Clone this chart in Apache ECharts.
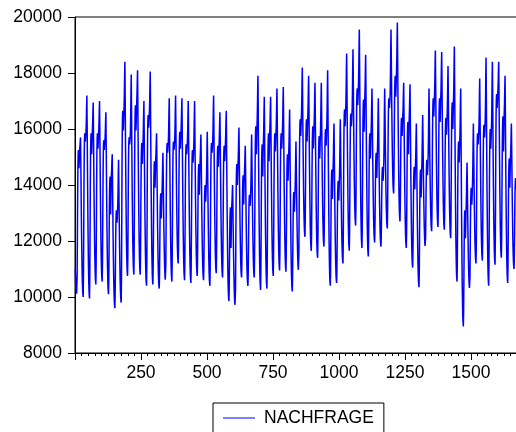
<!DOCTYPE html>
<html>
<head>
<meta charset="utf-8">
<script src="https://cdn.jsdelivr.net/npm/echarts@6/dist/echarts.min.js"></script>
<style>
  html, body { margin: 0; padding: 0; background: #fff; }
  #chart { width: 516px; height: 432px; }
</style>
</head>
<body>
<div id="chart"></div>
<script>
// Hourly demand (NACHFRAGE), one row per day, seven days per week.
const week01 = [
  11000, 10700, 10450, 10300, 10200, 10120, 10100, 10720, 12060, 13600, 14630, 15100, 15250, 14930, 14600, 14860, 15190, 15300, 15410, 15570, 15700, 14850, 13880, 12960,
  12170, 11480, 10910, 10510, 10230, 10090, 10000, 10700, 12220, 13980, 15150, 15680, 15850, 15700, 15550, 15670, 15820, 15990, 16320, 16820, 17200, 16110, 14880, 13720,
  12710, 11840, 11110, 10600, 10240, 10060, 9950, 10660, 12190, 13960, 15140, 15670, 15850, 15480, 15100, 15400, 15780, 15960, 16240, 16640, 16950, 15980, 14870, 13830,
  12920, 12140, 11490, 11040, 10710, 10550, 10450, 11100, 12500, 14120, 15200, 15690, 15850, 15580, 15300, 15520, 15800, 15970, 16250, 16680, 17000, 16030, 14940, 13900,
  13000, 12230, 11580, 11130, 10810, 10650, 10550, 11160, 12470, 13980, 14990, 15450, 15600, 15430, 15250, 15390, 15570, 15700, 15950, 16320, 16600, 15630, 14520, 13480,
  12570, 11790, 11140, 10690, 10360, 10200, 10100, 10600, 11700, 12960, 13800, 14170, 14300, 13630, 12950, 13490, 14170, 14380, 14580, 14880, 15100, 14280, 13340, 12460,
  11690, 11030, 10480, 10100, 9820, 9680, 9600, 10020, 10930, 11980, 12680, 13000, 13100, 12880, 12650, 12830, 13060, 13280, 13730, 14400, 14900, 14140, 13270, 12450
];
const week02 = [
  11740, 11130, 10620, 10260, 10000, 9880, 9800, 10620, 12400, 14460, 15830, 16450, 16650, 16300, 15950, 16230, 16580, 16830, 17260, 17910, 18400, 17250, 15950, 14730,
  13660, 12740, 11970, 11440, 11060, 10870, 10750, 11340, 12630, 14120, 15110, 15550, 15700, 15580, 15450, 15550, 15680, 15930, 16490, 17320, 17950, 16880, 15660, 14520,
  13520, 12660, 11940, 11440, 11090, 10910, 10800, 11530, 13100, 14910, 16120, 16670, 16850, 16400, 15950, 16310, 16760, 16980, 17290, 17750, 18100, 17010, 15760, 14600,
  13570, 12700, 11970, 11460, 11090, 10910, 10800, 11360, 12590, 14000, 14940, 15360, 15500, 15130, 14750, 15050, 15430, 15650, 16030, 16580, 17000, 16010, 14890, 13830,
  12910, 12120, 11460, 10990, 10660, 10500, 10400, 11130, 12720, 14550, 15770, 16320, 16500, 16280, 16050, 16230, 16460, 16660, 17040, 17620, 18050, 16910, 15620, 14400,
  13340, 12430, 11670, 11130, 10750, 10560, 10450, 10980, 12120, 13440, 14320, 14720, 14850, 14380, 13900, 14280, 14760, 14950, 15200, 15570, 15850, 15020, 14070, 13190,
  12410, 11740, 11190, 10800, 10520, 10380, 10300, 10710, 11590, 12610, 13290, 13600, 13700, 13250, 12800, 13160, 13610, 13850, 14210, 14740, 15150, 14460, 13680, 12940
];
const week03 = [
  12300, 11750, 11290, 10960, 10730, 10620, 10550, 11140, 12430, 13920, 14910, 15350, 15500, 15330, 15150, 15290, 15470, 15660, 16060, 16650, 17100, 16120, 15000, 13960,
  13040, 12250, 11600, 11140, 10810, 10650, 10550, 11150, 12450, 13950, 14950, 15400, 15550, 15400, 15250, 15370, 15520, 15720, 16130, 16740, 17200, 16300, 15280, 14320,
  13480, 12760, 12160, 11740, 11440, 11290, 11200, 11760, 12990, 14400, 15340, 15760, 15900, 15600, 15300, 15540, 15840, 16020, 16320, 16760, 17100, 16130, 15020, 13980,
  13070, 12290, 11640, 11190, 10860, 10700, 10600, 11180, 12440, 13900, 14870, 15310, 15450, 15280, 15100, 15240, 15420, 15610, 15990, 16570, 17000, 16030, 14920, 13880,
  12970, 12190, 11540, 11090, 10760, 10600, 10500, 11070, 12310, 13730, 14680, 15110, 15250, 15030, 14800, 14980, 15210, 15430, 15860, 16510, 17000, 16060, 15000, 14000,
  13130, 12380, 11750, 11310, 11000, 10840, 10750, 11230, 12270, 13470, 14270, 14630, 14750, 14200, 13650, 14090, 14640, 14860, 15120, 15510, 15800, 15020, 14140, 13300,
  12580, 11950, 11430, 11070, 10810, 10680, 10600, 11010, 11890, 12910, 13590, 13900, 14000, 13700, 13400, 13640, 13940, 14190, 14670, 15370, 15900, 15080, 14140, 13260
];
const week04 = [
  12490, 11830, 11280, 10900, 10620, 10480, 10400, 11010, 12340, 13870, 14890, 15350, 15500, 15330, 15150, 15290, 15470, 15670, 16100, 16720, 17200, 16250, 15170, 14150,
  13260, 12500, 11870, 11420, 11100, 10950, 10850, 11400, 12580, 13940, 14850, 15260, 15400, 15030, 14650, 14950, 15330, 15520, 15820, 16260, 16600, 15720, 14710, 13770,
  12940, 12230, 11640, 11230, 10940, 10790, 10700, 11260, 12490, 13900, 14840, 15260, 15400, 15130, 14850, 15070, 15350, 15530, 15840, 16300, 16650, 15630, 14470, 13390,
  12430, 11620, 10940, 10460, 10120, 9950, 9850, 10250, 11120, 12130, 12800, 13100, 13200, 12480, 11750, 12330, 13060, 13280, 13480, 13780, 14000, 13350, 12610, 11910,
  11300, 10780, 10350, 10040, 9820, 9720, 9650, 10260, 11590, 13120, 14140, 14600, 14750, 14380, 14000, 14300, 14680, 14880, 15210, 15690, 16050, 15250, 14340, 13480,
  12730, 12090, 11560, 11180, 10910, 10780, 10700, 11140, 12090, 13180, 13910, 14240, 14350, 13830, 13300, 13720, 14250, 14460, 14720, 15110, 15400, 14650, 13800, 13000,
  12300, 11700, 11200, 10850, 10600, 10480, 10400, 10790, 11640, 12610, 13260, 13550, 13650, 13450, 13250, 13410, 13610, 13870, 14400, 15200, 15800, 15040, 14170, 13350
];
const week05 = [
  12640, 12030, 11520, 11160, 10900, 10780, 10700, 11350, 12750, 14370, 15450, 15940, 16100, 15600, 15100, 15500, 16000, 16280, 16730, 17400, 17900, 16750, 15450, 14230,
  13160, 12240, 11470, 10940, 10560, 10370, 10250, 10870, 12230, 13790, 14830, 15290, 15450, 14880, 14300, 14760, 15340, 15620, 16050, 16670, 17150, 16120, 14960, 13860,
  12900, 12080, 11400, 10920, 10570, 10400, 10300, 10970, 12410, 14070, 15180, 15680, 15850, 15350, 14850, 15250, 15750, 15980, 16310, 16790, 17150, 16190, 15100, 14080,
  13180, 12410, 11770, 11330, 11010, 10850, 10750, 11360, 12690, 14220, 15240, 15700, 15850, 15530, 15200, 15460, 15790, 16010, 16410, 17000, 17450, 16480, 15370, 14330,
  13420, 12640, 11990, 11540, 11210, 11050, 10950, 11540, 12810, 14280, 15260, 15700, 15850, 15580, 15300, 15520, 15800, 16020, 16430, 17040, 17500, 16510, 15390, 14330,
  13410, 12620, 11960, 11490, 11160, 11000, 10900, 11400, 12500, 13760, 14600, 14970, 15100, 14630, 14150, 14530, 15010, 15260, 15660, 16250, 16700, 15730, 14620, 13580,
  12670, 11890, 11240, 10790, 10460, 10300, 10200, 10630, 11550, 12610, 13320, 13640, 13750, 13400, 13050, 13330, 13680, 13930, 14380, 15050, 15550, 14850, 14060, 13320
];
const week06 = [
  12670, 12110, 11640, 11320, 11090, 10970, 10900, 11550, 12970, 14610, 15700, 16190, 16350, 16050, 15750, 15990, 16290, 16540, 17000, 17680, 18200, 17290, 16260, 15300,
  14450, 13720, 13120, 12700, 12390, 12240, 12150, 12650, 13750, 15010, 15850, 16220, 16350, 15950, 15550, 15870, 16270, 16510, 16890, 17470, 17900, 16960, 15900, 14900,
  14030, 13280, 12650, 12210, 11900, 11740, 11650, 12180, 13340, 14680, 15570, 15970, 16100, 15700, 15300, 15620, 16020, 16260, 16640, 17220, 17650, 16710, 15650, 14650,
  13780, 13030, 12400, 11960, 11650, 11490, 11400, 11920, 13050, 14360, 15230, 15620, 15750, 15350, 14950, 15270, 15670, 15940, 16420, 17120, 17650, 16770, 15780, 14840,
  14020, 13320, 12740, 12330, 12030, 11890, 11800, 12300, 13400, 14660, 15500, 15870, 16000, 15700, 15400, 15640, 15940, 16210, 16740, 17510, 18100, 16950, 15640, 14400,
  13330, 12400, 11630, 11090, 10710, 10520, 10400, 10900, 11980, 13220, 14050, 14430, 14550, 14030, 13500, 13920, 14450, 14720, 15130, 15740, 16200, 15350, 14380, 13460,
  12670, 11980, 11410, 11010, 10730, 10590, 10500, 10940, 11890, 12980, 13710, 14040, 14150, 13800, 13450, 13730, 14080, 14370, 14920, 15730, 16350, 15580, 14700, 13880
];
const week07 = [
  13160, 12540, 12020, 11660, 11410, 11280, 11200, 11860, 13290, 14940, 16040, 16540, 16700, 16400, 16100, 16340, 16640, 16900, 17400, 18140, 18700, 17640, 16440, 15320,
  14330, 13480, 12780, 12290, 11930, 11760, 11650, 12240, 13510, 14980, 15960, 16400, 16550, 16330, 16100, 16280, 16510, 16780, 17360, 18210, 18850, 17910, 16830, 15830,
  14940, 14190, 13560, 13120, 12800, 12650, 12550, 13140, 14410, 15880, 16860, 17300, 17450, 17150, 16850, 17090, 17390, 17660, 18190, 18960, 19550, 18380, 17050, 15810,
  14710, 13780, 13000, 12450, 12060, 11870, 11750, 12390, 13760, 15350, 16410, 16890, 17050, 16480, 15900, 16360, 16940, 17210, 17610, 18200, 18650, 17570, 16350, 15190,
  14190, 13320, 12600, 12100, 11740, 11560, 11450, 11980, 13120, 14440, 15320, 15720, 15850, 15400, 14950, 15310, 15760, 16010, 16410, 17000, 17450, 16630, 15690, 14810,
  14040, 13380, 12830, 12450, 12170, 12030, 11950, 12330, 13170, 14130, 14770, 15050, 15150, 14700, 14250, 14610, 15060, 15350, 15830, 16550, 17100, 16310, 15400, 14560,
  13810, 13180, 12650, 12280, 12010, 11880, 11800, 12140, 12880, 13740, 14310, 14570, 14650, 14400, 14150, 14350, 14600, 14930, 15630, 16670, 17450, 16700, 15850, 15050
];
const week08 = [
  14350, 13750, 13250, 12900, 12650, 12530, 12450, 13010, 14220, 15610, 16540, 16960, 17100, 16930, 16750, 16890, 17070, 17350, 17960, 18860, 19550, 18670, 17680, 16740,
  15920, 15220, 14640, 14230, 13930, 13790, 13700, 14200, 15300, 16560, 17400, 17770, 17900, 17530, 17150, 17450, 17830, 18090, 18570, 19270, 19800, 18740, 17530, 16390,
  15400, 14550, 13840, 13340, 12980, 12810, 12700, 13140, 14110, 15220, 15960, 16290, 16400, 16080, 15750, 16010, 16340, 16530, 16840, 17300, 17650, 16770, 15760, 14820,
  13990, 13280, 12690, 12280, 11990, 11840, 11750, 12290, 13460, 14810, 15710, 16120, 16250, 15680, 15100, 15560, 16140, 16390, 16720, 17220, 17600, 16620, 15500, 14460,
  13540, 12750, 12100, 11640, 11310, 11150, 11050, 11480, 12420, 13500, 14220, 14540, 14650, 14250, 13850, 14170, 14570, 14810, 15190, 15770, 16200, 15320, 14330, 13390,
  12570, 11870, 11290, 10880, 10580, 10440, 10350, 10850, 11950, 13210, 14050, 14420, 14550, 14050, 13550, 13950, 14450, 14750, 15230, 15950, 16500, 15790, 14980, 14220,
  13560, 12990, 12510, 12180, 11940, 11820, 11750, 12130, 12950, 13890, 14520, 14810, 14900, 14630, 14350, 14570, 14850, 15160, 15790, 16740, 17450, 16690, 15820, 15000
];
const week09 = [
  14290, 13680, 13170, 12810, 12550, 12430, 12350, 12920, 14160, 15580, 16530, 16960, 17100, 16780, 16450, 16710, 17040, 17270, 17700, 18320, 18800, 17860, 16780, 15780,
  14890, 14140, 13510, 13070, 12750, 12600, 12500, 13050, 14250, 15630, 16550, 16960, 17100, 16680, 16250, 16590, 17020, 17270, 17680, 18290, 18750, 17800, 16720, 15700,
  14810, 14050, 13420, 12970, 12650, 12500, 12400, 12880, 13920, 15120, 15920, 16280, 16400, 16100, 15800, 16040, 16340, 16590, 17050, 17730, 18250, 17330, 16280, 15300,
  14440, 13700, 13080, 12650, 12350, 12190, 12100, 12680, 13940, 15400, 16370, 16810, 16950, 16480, 16000, 16380, 16860, 17150, 17650, 18390, 18950, 17690, 16260, 14920,
  13740, 12730, 11890, 11310, 10890, 10680, 10550, 11150, 12450, 13950, 14950, 15400, 15550, 15180, 14800, 15100, 15480, 15740, 16220, 16920, 17450, 16180, 14730, 13370,
  12180, 11160, 10310, 9720, 9290, 9080, 8950, 9450, 10530, 11770, 12600, 12980, 13100, 12600, 12100, 12500, 13000, 13270, 13700, 14320, 14800, 14120, 13340, 12620,
  11980, 11430, 10980, 10660, 10430, 10320, 10250, 10690, 11640, 12730, 13460, 13790, 13900, 13600, 13300, 13540, 13840, 14130, 14710, 15560, 16200, 15450, 14600, 13800
];
const week10 = [
  13100, 12500, 12000, 11650, 11400, 11280, 11200, 11760, 12970, 14360, 15290, 15710, 15850, 15650, 15450, 15610, 15810, 16050, 16530, 17250, 17800, 16830, 15720, 14680,
  13770, 12990, 12340, 11890, 11560, 11400, 11300, 11880, 13140, 14600, 15570, 16010, 16150, 15930, 15700, 15880, 16110, 16390, 16990, 17880, 18550, 17330, 15940, 14640,
  13500, 12520, 11700, 11130, 10730, 10520, 10400, 11070, 12530, 14210, 15330, 15830, 16000, 15650, 15300, 15580, 15930, 16240, 16840, 17730, 18400, 17310, 16080, 14920,
  13910, 13040, 12310, 11800, 11440, 11260, 11150, 11880, 13470, 15300, 16520, 17070, 17250, 17000, 16750, 16950, 17200, 17370, 17650, 18080, 18400, 17350, 16160, 15040,
  14060, 13220, 12520, 12030, 11680, 11510, 11400, 12010, 13320, 14830, 15840, 16300, 16450, 15830, 15200, 15700, 16330, 16600, 16960, 17490, 17900, 16790, 15530, 14350,
  13310, 12420, 11680, 11170, 10800, 10610, 10500, 11030, 12190, 13530, 14420, 14820, 14950, 14430, 13900, 14320, 14850, 15080, 15390, 15850, 16200, 15420, 14540, 13700,
  12980, 12350, 11830, 11470, 11210, 11080, 11000, 11390, 12240, 13210, 13860, 14150, 14250, 14050, 13850, 14010, 14210, 14430, 14860, 15510, 16000, 15180, 14240, 13360
];

const seriesName = 'NACHFRAGE';
const yTicks = [8000, 10000, 12000, 14000, 16000, 18000, 20000];
const xTickLabels = [250, 500, 750, 1000, 1250, 1500];

const values = [].concat(week01, week02, week03, week04, week05,
                         week06, week07, week08, week09, week10);
// Observations are numbered from 1.
const points = values.map((v, i) => [i + 1, v]);

const FONT = "'Liberation Sans', Arial, Helvetica, sans-serif";
const chart = echarts.init(document.getElementById('chart'), null, { renderer: 'canvas' });

chart.setOption({
  animation: false,
  backgroundColor: '#ffffff',
  grid: {
    left: 75, top: 17, width: 462, height: 336,
    show: true, borderColor: '#000', borderWidth: 1,
    backgroundColor: 'transparent',
    containLabel: false,
    outerBoundsMode: 'none'
  },
  xAxis: {
    type: 'value', min: 0, max: 1750, interval: 250,
    axisLine: { show: true, onZero: false, lineStyle: { color: '#000', width: 1 } },
    axisTick: { show: true, inside: false, length: 7, lineStyle: { color: '#000' } },
    minorTick: { show: true, splitNumber: 10, length: 3, lineStyle: { color: '#000' } },
    splitLine: { show: false },
    minorSplitLine: { show: false },
    axisLabel: {
      color: '#000', fontFamily: FONT, fontSize: 17.5, margin: 11,
      showMinLabel: false, showMaxLabel: false,
      formatter: v => (xTickLabels.indexOf(v) >= 0 ? String(v) : '')
    }
  },
  yAxis: {
    type: 'value', min: yTicks[0], max: yTicks[yTicks.length - 1], interval: 2000,
    axisLine: { show: true, lineStyle: { color: '#000', width: 1 } },
    axisTick: { show: true, inside: false, length: 7, lineStyle: { color: '#000' } },
    splitLine: { show: false },
    axisLabel: {
      color: '#000', fontFamily: FONT, fontSize: 17.5, margin: 13,
      formatter: v => String(v)
    }
  },
  legend: {
    show: true,
    left: 213, top: 403,
    orient: 'horizontal',
    padding: [6, 10, 6, 10],
    borderColor: '#000', borderWidth: 1,
    backgroundColor: '#fff',
    icon: 'rect', itemWidth: 32, itemHeight: 1,
    itemGap: 0,
    textStyle: { color: '#000', fontFamily: FONT, fontSize: 17.5, padding: [0, 0, 0, 4] },
    data: [seriesName]
  },
  series: [{
    name: seriesName,
    type: 'line',
    data: points,
    showSymbol: false,
    symbol: 'none',
    sampling: null,
    clip: true,
    lineStyle: { color: '#0000ff', width: 1.5 },
    itemStyle: { color: '#0000ff' }
  }]
});
</script>
</body>
</html>
